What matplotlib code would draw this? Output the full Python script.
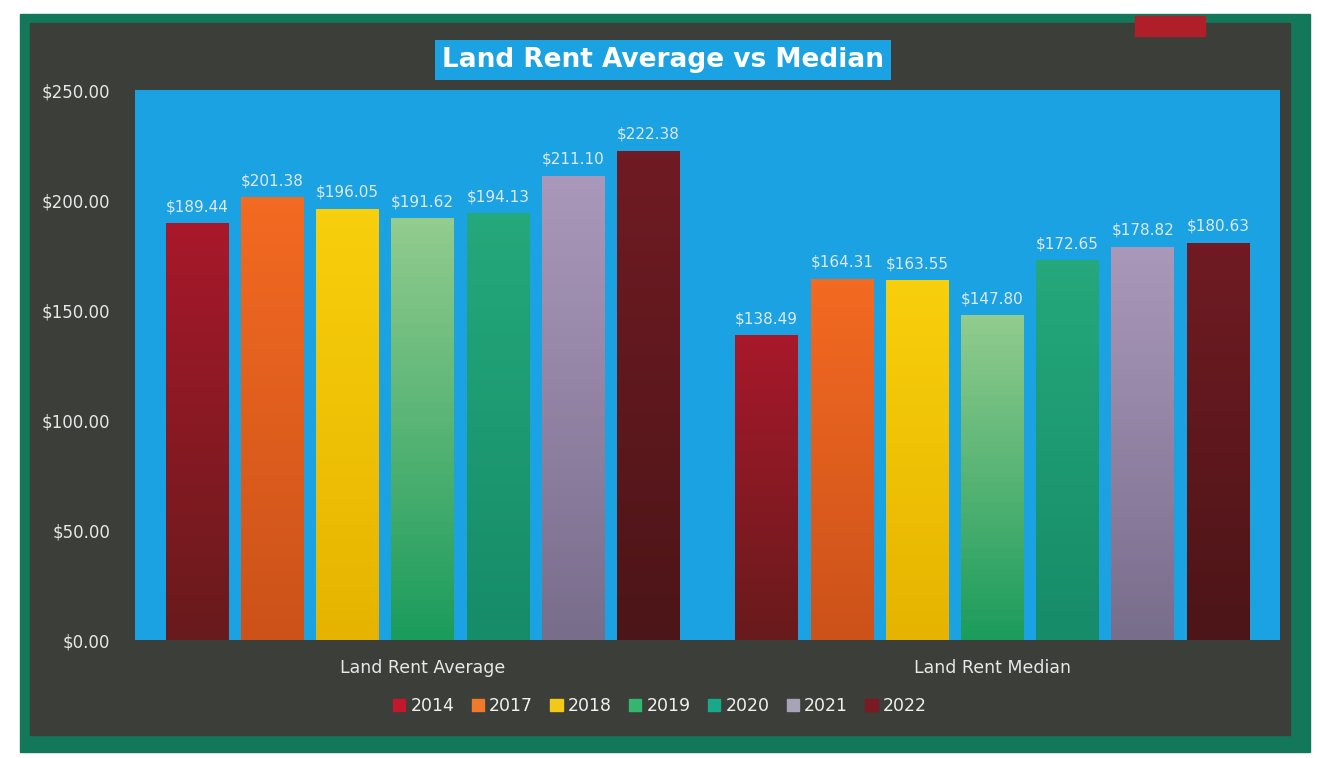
import matplotlib.pyplot as plt
import numpy as np
from matplotlib.colors import LinearSegmentedColormap
from matplotlib.patches import Rectangle

categories = ["Land Rent Average", "Land Rent Median"]
years = ["2014", "2017", "2018", "2019", "2020", "2021", "2022"]
rent_2014 = [189.44, 138.49]
rent_2017 = [201.38, 164.31]
rent_2018 = [196.05, 163.55]
rent_2019 = [191.62, 147.80]
rent_2020 = [194.13, 172.65]
rent_2021 = [211.10, 178.82]
rent_2022 = [222.38, 180.63]
series = [rent_2014, rent_2017, rent_2018, rent_2019, rent_2020, rent_2021, rent_2022]

# (top, bottom) gradient colours for each year
grads = [("#a8182b", "#681b1c"), ("#f36a22", "#cc521a"), ("#f8cf0c", "#e6b400"),
         ("#92cc8e", "#1c9c5c"), ("#25a87b", "#168c68"), ("#aa98ba", "#796d8c"),
         ("#701b23", "#4c1518")]
legend_cols = ["#c3182b", "#f07a2a", "#f2c919", "#35b56d", "#18a88a", "#a8a4b8", "#7a1a22"]

fig = plt.figure(figsize=(13.22, 7.58), dpi=100)
fig.patch.set_facecolor("white")

# outer frame + dark panel (behind the axes)
for rect, col in [((20, 752, 1290, 738), "#13785a"), ((30, 735, 1260, 712), "#3b3e39"),
                  ((1135, 36, 70, 20), "#b01e2a")]:
    px, py, pw, ph = rect
    fig.patches.append(Rectangle((px/1322, 1-py/758), pw/1322, ph/758,
                                 transform=fig.transFigure, color=col, zorder=-5))

ax = fig.add_axes([135/1322, 1-640/758, 1145/1322, 550/758])
ax.set_facecolor("#1ba2e2")
for s in ax.spines.values():
    s.set_visible(False)

x = np.arange(len(categories))
step = 0.132
width = 0.11
offsets = (np.arange(len(years)) - 3) * step

for i, vals in enumerate(series):
    cmap = LinearSegmentedColormap.from_list("g", [grads[i][1], grads[i][0]])
    bars = ax.bar(x + offsets[i], vals, width, color=legend_cols[i], label=years[i], zorder=2)
    for b, v in zip(bars, vals):
        b.set_facecolor("none")
        grad = np.linspace(0, 1, 64).reshape(-1, 1)
        im = ax.imshow(grad, cmap=cmap, origin="lower", aspect="auto",
                       extent=[b.get_x(), b.get_x() + b.get_width(), 0, v], zorder=2)
        im.set_clip_path(b)
        ax.text(b.get_x() + b.get_width() / 2, v + 4, f"${v:,.2f}", ha="center", va="bottom",
                color="#dfe8ee", fontsize=11, zorder=3)

ax.set_xlim(-0.505, 1.505)
ax.set_ylim(0, 250)
ax.set_yticks(np.arange(0, 251, 50))
ax.set_yticklabels([f"${t:.2f}" for t in np.arange(0, 251, 50)], color="#e8e8e8", fontsize=12)
ax.tick_params(axis="y", length=0, pad=18)
ax.set_xticks(x)
ax.set_xticklabels(categories, color="#e8e8e8", fontsize=12.5)
ax.tick_params(axis="x", length=0, pad=14)

# legend with plain square handles
handles = [Rectangle((0, 0), 1, 1, color=c) for c in legend_cols]
fig.legend(handles, years, loc="center", bbox_to_anchor=(660/1322, 1-706/758), ncol=7,
           frameon=False, fontsize=12.5, labelcolor="#f0f0f0", handlelength=0.7,
           handleheight=0.7, handletextpad=0.3, columnspacing=1.0)

fig.text(663/1322, 1-60/758, "Land Rent Average vs Median", ha="center", va="center",
         color="white", fontsize=19, fontweight="bold",
         bbox=dict(boxstyle="square,pad=0.25", facecolor="#1ba2e2", edgecolor="none"))

fig.savefig("out.png", dpi=100, facecolor=fig.get_facecolor())
